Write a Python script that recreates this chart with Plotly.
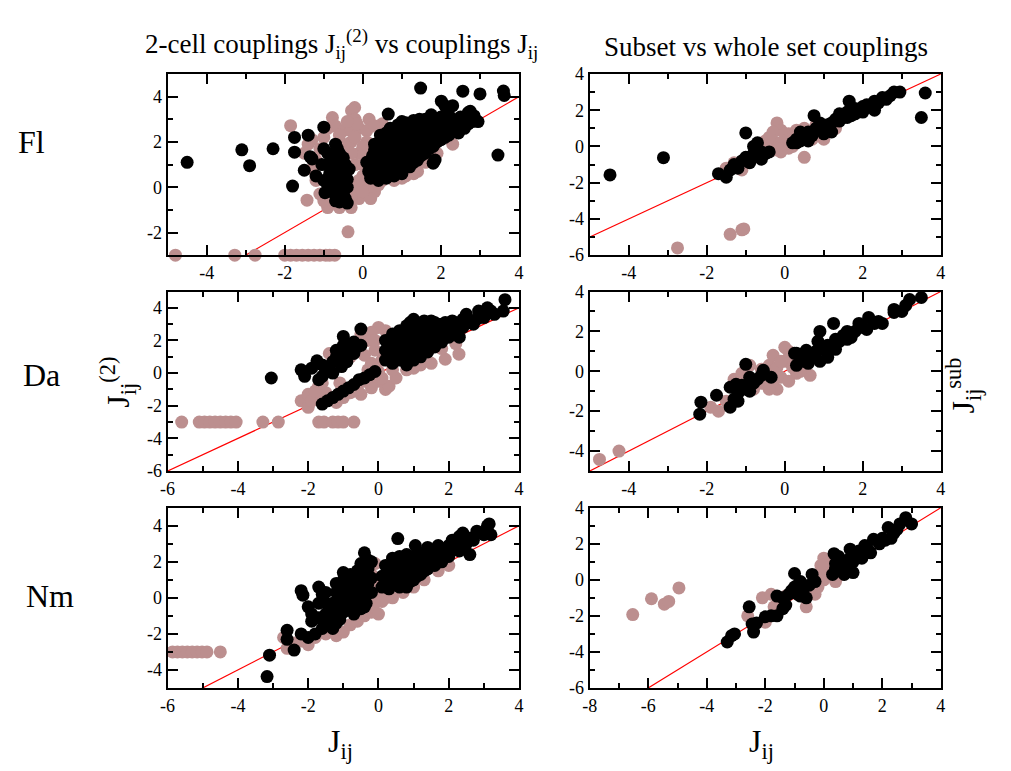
import plotly.graph_objects as go

BROWN = "#bc8f8f"
FONT = "Liberation Serif, Times New Roman, DejaVu Serif, serif"
TICK_FONT = "Times New Roman"

# ---- data: (J_ij, J) pairs for each species ----
# Fl, 2-cell couplings vs couplings
fl2_brown = [(-4.8,-3),(-3.28,-3),(-2.76,-3),(-2.0,-3),(-1.85,-3),(-1.7,-3),(-1.55,-3),(-1.4,-3),
             (-1.25,-3),(-1.1,-3),(-0.95,-3),(-0.85,-3),(-0.72,-3),(-0.38,-1.97),(-1.43,-0.57),
             (-1.85,2.72),(-0.78,3.08),(-0.21,3.52),(-0.29,3.38),(0.16,3.0),(0.5,2.8),
             (-1.5,1.5),(-1.4,1.9),(-1.3,2.1),(-1.2,1.2),(-1.1,1.7),(-1.0,2.2),(-0.9,2.6),(-0.7,2.7),
             (-0.5,2.5),(-0.3,2.5),(-0.1,2.6),(0.1,2.5),(0.3,2.7),(-0.3,2.0),(-0.1,1.5),(-0.2,1.0),
             (0.0,0.5),(-0.2,0.0),(-0.1,-0.5),(-0.3,-0.9),(-0.6,-0.9),(-0.9,-0.9),(-1.0,-0.6),
             (-1.1,-0.3),(-1.2,0.3),(-1.3,0.8),(0.1,0.1),(0.3,-0.2),(0.5,0.3),(0.8,0.3),(1.1,0.5),
             (1.4,0.7),(1.6,1.1),(1.9,1.5),(2.3,1.9),(0.2,-0.5),(-0.3,-0.4),(0.0,1.0),(0.1,2.0),
             (-0.5,1.9),(-0.2,3.0),(-0.6,2.3),(0.0,-0.2),(0.2,0.6),(1.3,0.6),(-0.2,2.2),
             (0.0,1.8),(-0.1,0.3),(0.1,1.4),(-0.3,1.5),(-0.15,2.8),(0.4,0.1),(1.0,0.4),(-0.4,2.9)]
fl2_black = [(-4.5,1.1),(-3.1,1.65),(-2.9,0.95),(-2.3,1.7),(-1.75,2.2),(-1.75,1.55),(-1.8,0.05),
             (-1.4,2.3),(-1.0,2.65),(-1.5,0.75),(-1.3,1.25),(-1.35,1.35),(-1.2,0.5),(-0.97,-0.24),
             (0.65,3.23),(1.48,4.38),(2.56,4.24),(3.0,4.12),(3.6,4.25),(3.62,4.05),(3.46,1.42),
             (1.8,1.06),(1.85,1.2),(2.01,3.8),
             (-0.7,-0.6),(-0.6,-0.65),(-0.45,-0.5),(-0.4,0.0),(-0.5,0.5),(-0.8,0.9),(-0.9,1.5),
             (-0.6,1.5),(-0.7,1.9),(-0.5,1.3),(-0.45,1.0),(-0.9,0.1),(-1.0,0.3),(-0.8,-0.2),
             (-0.5,-0.3),(-0.4,-0.7),(-0.35,0.8),(-0.7,0.4),(-1.05,1.0),(-0.6,0.9),
             (-0.75,0.2),(-0.65,-0.1),(-0.55,0.2),(-0.85,0.6),(-0.75,1.3),(-0.65,1.7),
             (-0.55,0.75),(-1.0,1.7),(-0.4,0.35),(-0.85,1.1),
             (0.2,0.4),(0.2,0.9),(0.25,1.4),(0.3,1.9),(0.4,0.3),(0.4,0.8),(0.4,1.3),(0.4,1.8),
             (0.45,2.3),(0.6,0.4),(0.6,0.9),(0.6,1.4),(0.6,1.9),(0.6,2.4),(0.8,0.5),(0.8,1.0),
             (0.8,1.5),(0.8,2.0),(0.8,2.5),(1.0,0.6),(1.0,1.1),(1.0,1.6),(1.0,2.1),(1.0,2.6),
             (1.0,2.9),(1.2,0.9),(1.2,1.4),(1.2,1.9),(1.2,2.4),(1.2,2.8),(1.4,1.2),(1.4,1.7),
             (1.4,2.2),(1.4,2.7),(1.45,3.0),(1.6,1.5),(1.6,2.0),(1.6,2.5),(1.6,3.0),(1.8,1.8),
             (1.8,2.3),(1.8,2.8),(1.75,3.2),(2.0,2.1),(2.0,2.6),(2.0,3.1),(2.1,3.6),(2.3,3.6),
             (2.2,2.3),(2.2,2.8),(2.2,3.2),(2.45,2.4),(2.4,2.9),(2.5,3.1),(2.6,2.6),(2.6,3.1),
             (2.7,3.3),(2.8,2.9),(2.85,3.15),(2.95,2.9),
             (0.3,0.65),(0.3,1.15),(0.3,1.65),(0.5,0.55),(0.5,1.05),(0.5,1.55),(0.5,2.05),
             (0.7,0.7),(0.7,1.2),(0.7,1.7),(0.7,2.2),(0.7,2.6),(0.9,0.8),(0.9,1.3),(0.9,1.8),
             (0.9,2.3),(0.9,2.75),(1.1,1.0),(1.1,1.5),(1.1,2.0),(1.1,2.5),(1.1,2.85),(1.3,1.1),
             (1.3,1.6),(1.3,2.1),(1.3,2.6),(1.3,2.95),(1.5,1.4),(1.5,1.9),(1.5,2.4),(1.5,2.85),
             (1.7,1.7),(1.7,2.2),(1.7,2.7),(1.9,2.0),(1.9,2.5),(1.9,3.0),(2.1,2.2),(2.1,2.7),
             (2.3,2.6),(2.3,3.0),(2.5,2.7),(2.7,2.8),(2.75,3.35),(0.15,0.7),(0.1,1.1)]
# Fl, subset vs whole set
flsub_brown = [(-2.75,-5.6),(-1.4,-4.85),(-1.1,-4.6),(-1.05,-4.55),(-0.2,1.3),(0.5,-0.6),
               (-0.1,0.9),(0.0,0.3),(0.1,-0.1),(0.2,0.0),(-0.2,0.2),(-0.3,-0.2),(-0.1,-0.3),
               (0.1,0.7),(0.3,0.9),(0.5,1.0),(0.8,1.2),(1.0,0.4),(0.7,0.4),(-0.5,0.3),
               (-1.3,-0.9),(-1.1,-1.3),(-1.5,-1.2),(1.3,1.0),(-0.3,0.8),(0.0,0.7),
               (-0.4,0.5),(0.1,0.4),(-0.2,-0.1),(0.3,0.6),(-0.6,0.0),(0.9,0.7)]
flsub_black = [(-4.48,-1.57),(-3.11,-0.62),(3.5,1.6),(3.6,2.95),(-1.7,-1.5),(-1.5,-1.7),
               (-1.3,-1.0),(-1.2,-1.2),(-1.1,-0.8),(-1.0,-0.6),(-0.9,-0.9),(-0.8,-0.4),
               (-0.7,-0.5),(-0.6,-0.3),(-0.5,-0.4),(-0.4,-0.3),(-0.8,0.0),(-0.7,0.2),(-1.0,0.75),
               (-0.6,-0.7),(0.2,0.2),(0.3,0.4),(0.4,0.3),(0.5,0.6),(0.6,0.8),(0.7,0.6),(0.8,1.0),
               (0.9,0.9),(1.0,1.1),(1.1,1.2),(1.2,0.8),(1.3,1.5),(1.4,1.8),(1.5,1.6),(1.6,1.9),
               (1.7,1.7),(1.8,2.1),(1.9,2.0),(2.0,2.2),(2.1,2.3),(2.3,2.5),(2.3,2.0),(2.5,2.7),
               (2.7,2.8),(2.8,3.0),(2.95,3.0),(0.75,1.7),(1.65,2.5),(0.4,0.8),(0.6,0.3),(1.0,0.7),
               (1.2,1.3),(1.4,1.4),(1.6,1.6),(1.8,1.8),(2.0,1.9),(2.2,2.2),(2.4,2.4),(2.6,2.6),
               (0.9,1.3),(1.1,0.9),(0.3,0.2),(-1.4,-1.3),(-0.9,-0.6)]
# Da, 2-cell couplings vs couplings
da2_brown = [(-5.6,-3),(-5.1,-3),(-4.95,-3),(-4.8,-3),(-4.65,-3),(-4.5,-3),(-4.35,-3),(-4.2,-3),
             (-4.05,-3),(-3.29,-3),(-2.85,-3),(-1.7,-3),(-1.55,-3),(-1.3,-3),(-1.15,-3),(-1.0,-3),
             (-0.7,-3),(-2.2,-1.7),(-2.0,-1.3),(-2.0,-2.1),(-1.8,-1.5),(-1.7,-0.8),(2.29,1.16),
             (1.9,0.85),(0.0,2.8),(-0.2,2.5),(-0.6,1.9),(0.0,-0.5),(0.2,-1.0),(0.3,-0.8),
             (1.2,0.5),(1.5,0.6),(1.8,1.5),(2.2,1.8),(-0.3,2.0),(-0.1,1.4),(0.1,0.8),(-0.2,0.6),
             (-0.4,1.1),(-0.8,1.0),(-1.2,0.4),(-1.4,1.2),(-1.1,-0.6),(-0.5,-1.3),(-0.2,-0.9),
             (0.5,-0.3),(0.8,0.2),(-1.5,-1.2),(-0.3,0.2),(0.0,0.1),
             (-0.4,-0.5),(-0.6,-1.0),(-0.8,-1.2),(-1.0,-1.5),(-1.2,-1.8),(-1.5,-1.7),
             (-1.9,-1.7),(-1.8,-1.1),(-1.6,-0.6),(-0.1,2.0),(0.1,-0.3),(0.4,0.2),(1.0,0.3),
             (-0.5,2.4),(0.2,2.6),(-0.2,-0.2)]
da2_black = [(-3.05,-0.3),(-2.2,0.2),(-2.1,-0.2),(-1.75,0.75),(-1.6,0.5),(-1.7,-0.4),(-1.4,0.2),
             (-1.3,0.7),(-1.0,2.25),(-0.5,2.7),(-1.0,1.7),(-0.8,1.5),(-0.6,1.6),(-1.2,1.0),
             (-0.9,0.7),(-0.5,1.7),(-1.3,0.0),(-1.6,-1.9),(-1.45,-1.7),(-1.3,-1.5),(-1.15,-1.3),
             (-1.0,-1.1),(-0.85,-0.9),(-0.7,-0.7),(-0.55,-0.4),(-0.4,-0.3),(-0.25,-0.1),
             (-0.1,0.1),(0.2,0.8),(0.2,1.4),(0.2,2.0),(0.4,0.6),(0.4,1.2),(0.4,1.8),(0.4,2.4),
             (0.6,0.8),(0.6,1.4),(0.6,2.0),(0.6,2.6),(0.8,0.5),(0.8,1.1),(0.8,1.7),(0.8,2.3),
             (0.8,2.9),(1.0,0.8),(1.0,1.4),(1.0,2.0),(1.0,2.6),(1.0,3.3),(1.2,1.0),(1.2,1.6),
             (1.2,2.2),(1.2,2.8),(1.3,3.2),(1.4,1.3),(1.4,1.9),(1.4,2.5),(1.6,1.6),(1.6,2.2),
             (1.6,2.8),(1.6,3.1),(1.8,1.9),(1.8,2.5),(1.8,3.0),(2.0,2.2),(2.0,2.8),(2.1,3.2),
             (2.2,2.6),(2.3,3.0),(2.4,3.3),(2.3,2.2),(2.6,3.1),(2.5,3.6),(2.8,3.3),(2.85,3.8),
             (3.0,3.4),(3.1,4.0),(3.3,3.6),(3.55,3.8),(3.6,4.5),
             (0.3,1.1),(0.3,1.7),(0.5,0.9),(0.5,1.5),(0.5,2.1),(0.7,1.1),(0.7,1.7),(0.7,2.3),
             (0.9,0.8),(0.9,1.4),(0.9,2.0),(0.9,2.6),(0.9,3.1),(1.1,1.2),(1.1,1.8),(1.1,2.4),
             (1.1,3.0),(1.3,1.5),(1.3,2.1),(1.3,2.7),(1.5,1.6),(1.5,2.2),(1.5,2.8),(1.7,1.9),
             (1.7,2.5),(1.7,3.0),(1.9,2.2),(1.9,2.7),(2.1,2.5),(2.1,2.9),(2.4,2.8),(2.7,3.0),
             (2.9,3.6),(3.2,3.8),(1.5,3.2),(1.9,3.1),
             (-1.2,1.4),(-1.1,1.1),(-0.9,1.2),(-0.7,1.2),(-0.7,1.9),(-0.9,1.8),(-1.05,0.4),
             (-1.5,0.1),(-1.9,0.3),(-1.6,-0.2)]
# Da, subset vs whole set
dasub_brown = [(-4.75,-4.42),(-4.25,-4.0),(-1.7,-2.0),(-1.9,-1.8),(-1.5,-1.5),(-1.3,-0.4),
               (-0.9,0.3),(-0.8,-0.9),(-0.6,-0.6),(-0.5,-0.2),(-0.4,0.3),(-0.3,0.8),(-0.2,0.2),
               (-0.1,-0.3),(0.0,0.5),(0.1,1.0),(0.2,0.6),(0.3,-0.1),(0.5,0.3),(0.65,-0.2),
               (-0.2,-0.9),(-0.4,-0.9),(0.1,-0.5),(-0.6,0.1),(0.0,1.2),(-1.1,-0.1),
               (-0.3,-0.5),(0.2,0.2),(-0.1,0.5),(0.4,0.0)]
dasub_black = [(-2.18,-2.15),(-2.15,-1.55),(-1.75,-1.2),(-1.4,-0.8),(-1.4,-1.8),(-1.3,-1.4),
               (-1.2,-1.1),(-1.1,-0.7),(-1.0,-0.9),(-1.0,0.35),(-0.9,-0.3),(-0.8,-0.6),
               (-0.7,-0.4),(-0.6,-0.2),(-0.55,0.05),(-0.35,-0.3),(0.25,0.9),(0.3,0.3),(0.4,0.6),
               (0.5,0.9),(0.55,1.05),(0.6,0.4),(0.7,0.7),(0.8,1.0),(0.9,0.5),(0.85,1.5),(0.9,2.0),
               (1.0,1.1),(1.2,1.3),(1.25,2.4),(1.3,1.6),(1.4,1.5),(1.5,1.8),(1.6,2.0),(1.7,1.7),
               (1.8,2.0),(1.9,2.4),(2.0,2.2),(2.15,2.7),(2.3,2.4),(2.5,2.4),(2.8,3.1),(3.0,3.0),
               (3.1,3.3),(3.2,3.6),(3.5,3.7),(-1.25,-0.65),(-0.9,-1.0),(0.3,0.9),(1.1,0.7),
               (2.8,2.95),(1.1,1.3),(1.3,1.1),(1.6,1.6),(2.1,2.1),(2.4,2.5),(-1.2,-1.5),(0.5,0.5)]
# Nm, 2-cell couplings vs couplings
nm2_brown = [(-5.86,-3),(-5.72,-3),(-5.58,-3),(-5.44,-3),(-5.3,-3),(-5.16,-3),(-5.02,-3),
             (-4.88,-3),(-4.5,-3),(-2.7,-2.2),(-2.6,-2.8),(-2.4,-2.5),(-2.0,-2.6),(-1.8,-2.2),
             (-1.5,-2.0),(-1.2,-2.1),(-1.0,-1.9),(-0.8,-1.5),(-0.6,-1.3),(-0.4,-1.0),(-0.2,-0.8),
             (0.0,-0.9),(-0.1,-0.3),(0.0,0.2),(0.1,-0.2),(-0.1,0.7),(-0.2,1.3),(-0.1,1.9),
             (0.2,0.0),(0.4,0.0),(0.7,0.3),(1.0,0.6),(1.3,1.0),(1.7,1.5),(2.0,1.8),
             (-0.3,-0.5),(-0.2,0.3),(-0.05,1.0),(-2.2,-2.4),(-1.4,-1.8)]
nm2_black = [(-3.17,-4.37),(-3.1,-3.18),(0.55,3.29),(-2.2,0.4),(-2.15,0.15),(-1.7,0.6),(-1.6,0.2),
             (-2.0,-0.5),(-1.9,-0.9),(-1.5,-0.3),(-1.4,-1.2),(-1.3,-1.7),(-1.2,0.8),(-1.0,1.4),
             (-0.4,2.5),(-0.5,1.9),(-0.3,1.6),(-2.6,-1.8),(-2.6,-2.3),(-2.4,-2.9),(-2.2,-2.0),
             (-2.0,-2.2),(-1.8,-2.0),(-1.6,-1.7),(-1.4,-1.4),(-1.2,-1.0),(-1.0,-0.8),(-0.8,-0.4),
             (-0.6,-0.2),(-0.4,0.0),(-1.1,0.2),(-0.9,0.6),(-0.7,0.9),(-0.5,1.2),(-0.3,0.8),
             (-0.2,0.3),(-1.0,-0.3),(-0.8,0.1),(-0.6,0.5),(-0.5,-0.6),(-1.3,-0.6),(-0.9,1.0),
             (-0.2,1.1),(-0.7,-0.9),(-1.5,0.3),(-0.4,-0.5),
             (-1.9,-1.3),(-1.7,-1.1),(-1.5,-0.9),(-1.3,-0.3),(-1.1,-0.6),(-0.9,-0.1),(-0.7,0.3),
             (-0.5,0.6),(-0.3,1.2),(-0.4,1.9),(-1.2,-1.4),(-0.9,0.0),(-0.7,-0.2),(-0.8,0.8),
             (-0.6,1.5),(-1.0,1.0),(-0.3,2.1),(-0.2,2.0),(-1.1,-1.2),(-0.6,-0.6),
             (-1.7,-0.3),(-1.2,0.3),(-0.8,1.3),(-0.45,0.3),(-1.0,0.5),(-0.35,-0.3),
             (0.1,0.6),(0.1,1.2),(0.2,1.8),(0.3,0.5),(0.4,1.0),(0.4,1.6),(0.4,2.2),(0.6,0.6),
             (0.6,1.2),(0.6,1.8),(0.6,2.3),(0.8,0.6),(0.8,1.2),(0.8,1.8),(0.8,2.4),(1.0,1.0),
             (1.0,1.5),(1.0,2.1),(1.05,2.9),(1.2,1.3),(1.2,1.9),(1.2,2.5),(1.4,1.6),(1.4,2.2),
             (1.4,2.8),(1.6,1.8),(1.6,2.4),(1.7,2.9),(1.8,2.0),(1.8,2.6),(2.0,2.3),(2.0,2.9),
             (2.1,3.2),(2.3,2.6),(2.3,3.4),(2.5,3.0),(2.6,2.4),(2.7,3.2),(2.8,3.7),(3.0,3.5),
             (3.1,4.0),(3.15,4.1),(3.2,3.5),(2.4,3.6),
             (0.2,0.9),(0.3,1.4),(0.5,0.8),(0.5,1.4),(0.5,2.0),(0.7,0.9),(0.7,1.5),(0.7,2.1),
             (0.9,0.9),(0.9,1.5),(0.9,2.1),(1.1,1.2),(1.1,1.8),(1.1,2.4),(1.3,1.5),(1.3,2.0),
             (1.5,1.9),(1.5,2.5),(1.7,2.2),(1.9,2.4),(2.2,2.8),(2.4,3.0),(2.6,3.3)]
# Nm, subset vs whole set
nmsub_brown = [(-6.53,-1.93),(-5.89,-1.05),(-5.45,-1.35),(-5.3,-1.2),(-4.95,-0.45),(-2.1,-1.0),
               (-2.6,-2.0),(-2.0,-2.35),(-1.8,-0.8),(-0.6,-1.5),(-0.3,-0.8),(0.0,0.0),(0.0,1.2),
               (0.2,0.5),(0.4,-0.1),(0.3,0.2),(0.6,0.3),(-0.1,0.4),(-0.4,-0.3),(-1.0,-0.6),
               (-1.3,-0.9),(-1.5,-1.2),(-1.7,-1.5),(0.1,0.9),(0.8,0.7),(-0.2,-0.4),
               (-0.1,0.8),(0.1,0.2),(-0.2,0.0)]
nmsub_black = [(-3.3,-3.45),(-3.15,-3.1),(-3.05,-3.0),(-2.55,-1.5),(-2.45,-2.45),(-2.4,-2.9),
               (-2.3,-2.4),(-2.0,-2.05),(-1.8,-2.0),(-1.6,-2.0),(-1.6,-0.9),(-1.4,-1.0),
               (-1.3,-1.4),(-1.2,-0.8),(-1.0,0.35),(-1.0,-0.4),(-0.9,-0.8),(-0.8,-0.1),
               (-0.7,-0.5),(-0.6,-1.0),(-0.5,-0.3),(-0.4,0.3),(-0.3,-0.1),(0.3,0.3),(0.35,1.45),
               (0.4,0.9),(0.5,0.5),(0.6,1.1),(0.7,0.3),(0.8,0.8),(0.9,1.7),(1.0,1.0),(1.0,0.4),
               (1.1,1.4),(1.2,1.6),(1.3,1.2),(1.4,1.9),(1.6,1.5),(1.7,2.25),(1.9,2.0),(2.1,2.2),
               (2.2,2.9),(2.3,2.3),(2.5,2.8),(2.6,3.1),(2.8,3.45),(3.0,3.1),(-1.4,-1.6),(0.5,1.3),
               (-0.8,-0.9),(-1.1,-0.6),(-0.9,-0.3),(0.4,0.6),(0.9,1.2),(1.5,1.7),(2.0,2.3),
               (2.4,2.6)]

row_labels = ["Fl", "Da", "Nm"]
x_ranges = [[-5, 4], [-5, 4], [-6, 4], [-5, 4], [-6, 4], [-8, 4]]
y_ranges = [[-3, 5], [-6, 4], [-6, 5], [-5, 4], [-5, 5], [-6, 4]]
panels = [(fl2_brown, fl2_black), (flsub_brown, flsub_black),
          (da2_brown, da2_black), (dasub_brown, dasub_black),
          (nm2_brown, nm2_black), (nmsub_brown, nmsub_black)]

W, H = 1011, 771
col_px = [(161.7, 517.7), (589.3, 945.0)]
row_px = [(65.7, 251.7), (289.0, 473.3), (511.0, 696.0)]


def even_ticks(rng):
    vals = [v for v in range(rng[0], rng[1] + 1) if v % 2 == 0]
    return vals, [str(v) for v in vals]


fig = go.Figure()
layout = dict(width=W, height=H, margin=dict(l=0, r=0, t=0, b=0),
              paper_bgcolor="white", plot_bgcolor="white", showlegend=False,
              font=dict(family=TICK_FONT, color="black", size=18))

for i, (brown, black) in enumerate(panels):
    r, c = divmod(i, 2)
    n = i + 1
    xa = "x" if n == 1 else f"x{n}"
    ya = "y" if n == 1 else f"y{n}"
    lo, hi = min(x_ranges[i][0], y_ranges[i][0]), max(x_ranges[i][1], y_ranges[i][1])
    # identity line y = x
    fig.add_trace(go.Scatter(x=[lo, hi], y=[lo, hi], mode="lines",
                             line=dict(color="red", width=1.2), xaxis=xa, yaxis=ya,
                             hoverinfo="skip"))
    for pts, col in ((brown, BROWN), (black, "black")):
        fig.add_trace(go.Scatter(x=[p[0] for p in pts], y=[p[1] for p in pts],
                                 mode="markers", cliponaxis=False,
                                 marker=dict(color=col, size=13, line=dict(width=0)),
                                 xaxis=xa, yaxis=ya))
    x0, x1 = col_px[c]
    y0, y1 = row_px[r]
    xv, xt = even_ticks(x_ranges[i])
    yv, yt = even_ticks(y_ranges[i])
    for key, rng, dom, anc, tv, tt in (
            ("xaxis", x_ranges[i], [x0 / W, x1 / W], ya, xv, xt),
            ("yaxis", y_ranges[i], [1 - y1 / H, 1 - y0 / H], xa, yv, yt)):
        layout[key if n == 1 else f"{key}{n}"] = dict(
            showgrid=False, zeroline=False, showline=True, linecolor="black",
            linewidth=2, mirror="ticks", ticks="inside", ticklen=10, tickwidth=1.5,
            tickcolor="black", tickmode="array", tickvals=tv, ticktext=tt,
            tickfont=dict(family=TICK_FONT, size=18, color="black"),
            minor=dict(ticks="inside", ticklen=5, tickwidth=1.5, dtick=1, tick0=0,
                       tickcolor="black", showgrid=False),
            range=rng, domain=dom, anchor=anc)

fig.update_layout(**layout)

ann = []
ann.append(dict(text="2-cell couplings J<sub>ij</sub><sup>(2)</sup> vs couplings J<sub>ij</sub>",
                x=338 / W, y=1 - 35 / H, font=dict(size=27)))
ann.append(dict(text="Subset vs whole set couplings", x=768 / W, y=1 - 38 / H,
                font=dict(size=27)))
for lab, yc, xc in zip(row_labels, [136, 375, 602], [24, 34, 43]):
    ann.append(dict(text=lab, x=xc / W, y=1 - yc / H, font=dict(size=32)))
ann.append(dict(text="J<sub>ij</sub><sup>(2)</sup>", x=111 / W, y=1 - 382 / H,
                textangle=-90, font=dict(size=32)))
ann.append(dict(text="J<sub>ij</sub><sup>sub</sup>", x=968 / W, y=1 - 386 / H,
                textangle=-90, font=dict(size=32)))
ann.append(dict(text="J<sub>ij</sub>", x=337 / W, y=1 - 753 / H, font=dict(size=32)))
ann.append(dict(text="J<sub>ij</sub>", x=763 / W, y=1 - 753 / H, font=dict(size=32)))
for a in ann:
    a.update(xref="paper", yref="paper", showarrow=False, xanchor="center",
             yanchor="middle")
    a["font"] = dict(family=FONT, color="black", **a["font"])
fig.update_layout(annotations=ann)

fig.write_html("out.html")
